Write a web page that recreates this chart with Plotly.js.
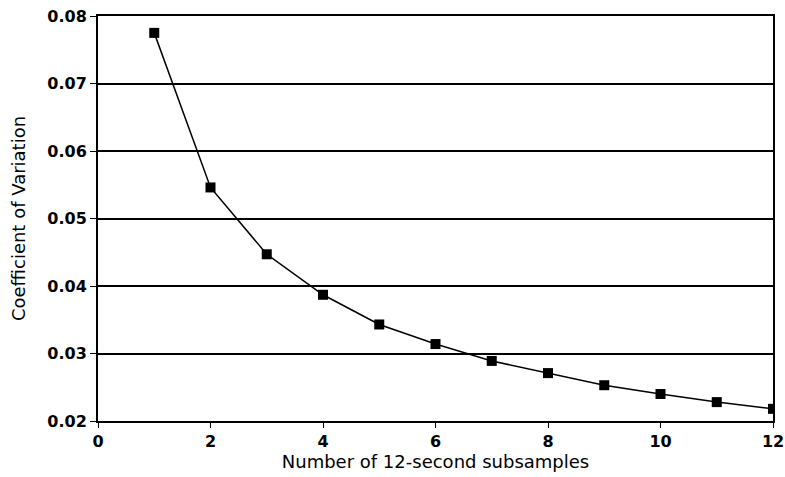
<!DOCTYPE html>
<html>
<head>
<meta charset="utf-8">
<script src="https://cdn.plot.ly/plotly-3.0.1.min.js"></script>
<style>
html,body{margin:0;padding:0;background:#fff;}
#chart{width:785px;height:477px;}
</style>
</head>
<body>
<div id="chart"></div>
<script>
const subsamples = [1, 2, 3, 4, 5, 6, 7, 8, 9, 10, 11, 12];
const coefVariation = [0.0775, 0.0546, 0.0447, 0.0387, 0.0343, 0.0314, 0.0289, 0.0271, 0.0253, 0.0240, 0.0228, 0.0218];
const xTicks = [0, 2, 4, 6, 8, 10, 12];
const yTicks = [0.02, 0.03, 0.04, 0.05, 0.06, 0.07, 0.08];

const tickFont = {family: 'DejaVu Sans', size: 16, color: '#000', weight: 'bold'};
const titleFont = {family: 'DejaVu Sans', size: 18, color: '#000'};

const trace = {
  x: subsamples,
  y: coefVariation,
  type: 'scatter',
  mode: 'lines+markers',
  line: {color: '#000', width: 1.5},
  marker: {symbol: 'square', size: 10, color: '#000'},
  showlegend: false
};

const layout = {
  width: 785,
  height: 477,
  margin: {l: 98, r: 12, t: 16, b: 56},
  paper_bgcolor: '#fff',
  plot_bgcolor: '#fff',
  xaxis: {
    range: [0, 12],
    tickvals: xTicks,
    ticktext: xTicks.map(String),
    showgrid: false,
    zeroline: false,
    showline: true,
    mirror: true,
    linecolor: '#000',
    linewidth: 2,
    ticks: 'outside',
    ticklen: 5,
    tickcolor: '#000',
    tickwidth: 1,
    tickfont: tickFont,
    title: {text: 'Number of 12-second subsamples', font: titleFont, standoff: 3}
  },
  yaxis: {
    range: [0.02, 0.08],
    tickvals: yTicks,
    ticktext: yTicks.map(v => v.toFixed(2)),
    showgrid: true,
    gridcolor: '#000',
    gridwidth: 2,
    zeroline: false,
    showline: true,
    mirror: true,
    linecolor: '#000',
    linewidth: 2,
    ticks: 'outside',
    ticklen: 6,
    tickcolor: '#000',
    tickwidth: 1,
    tickfont: tickFont,
    title: {text: 'Coefficient of Variation', font: titleFont, standoff: 17}
  }
};

Plotly.newPlot('chart', [trace], layout, {displayModeBar: false, staticPlot: true});
</script>
</body>
</html>
